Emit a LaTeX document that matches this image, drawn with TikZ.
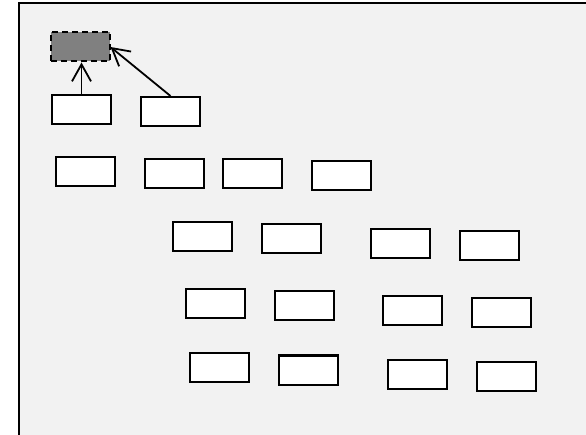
\documentclass[tikz,border=0pt]{standalone}
\usepackage{xcolor}
\usepackage{tikz}
\usetikzlibrary{arrows.meta,positioning}

\definecolor{panel}{HTML}{F2F2F2}
\definecolor{ghostfill}{HTML}{808080}

\begin{document}
\begin{tikzpicture}[
    x=1pt, y=-1pt,
    box/.style={draw, line width=2pt, fill=white, minimum width=59pt, minimum height=29pt, inner sep=0pt},
    ghost/.style={box, dash pattern=on 6pt off 4pt, fill=ghostfill},
    edge/.style={-{Straight Barb[length=17pt, width=19pt, line width=1.8pt]}, line width=1.8pt}
]
\useasboundingbox (0,0) rectangle (586,435);
\fill[panel] (19,3) rectangle (586,435);
\draw[line width=2.2pt] (19,435) -- (19,3) -- (586,3);
% target
\node[ghost] (g) at (80,47) {};
% first row
\node[box] (a1) at (81.5,109.5) {};
\node[box] (a2) at (170.5,111.5) {};
% second row
\node[box] (b1) at (85.5,171.5) {};
\node[box] (b2) at (174.5,173.5) {};
\node[box] (b3) at (252.5,173.5) {};
\node[box] (b4) at (341,175.5) {};
% third row
\node[box] (c1) at (202.5,236.5) {};
\node[box] (c2) at (291.5,239) {};
\node[box] (c3) at (400.5,244) {};
\node[box] (c4) at (489.5,245.5) {};
% fourth row
\node[box] (d1) at (215.5,303.5) {};
\node[box] (d2) at (304.5,305.5) {};
\node[box] (d3) at (412.5,310.5) {};
\node[box] (d4) at (501.5,312.5) {};
% fifth row
\node[box] (e1) at (219.5,367.5) {};
\node[box] (e2) at (308.5,370) {};
\node[box] (e3) at (417.5,374.5) {};
\node[box] (e4) at (506.5,376.5) {};
\draw[edge] (a1.north) -- (a1.north |- g.south);
\draw[edge] (a2.north) -- (g.east);
\end{tikzpicture}
\end{document}
